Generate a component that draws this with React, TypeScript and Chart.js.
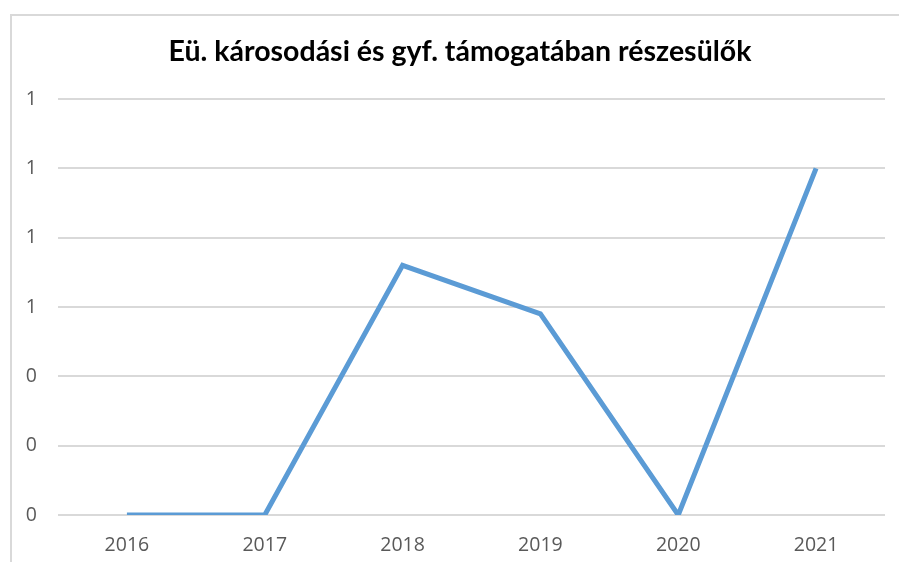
import React, { useEffect, useRef } from "react";
import { Chart, registerables } from "chart.js";

Chart.register(...registerables);

const TITLE = "Eü. károsodási és gyf. támogatában részesülők";
const YEARS = ["2016", "2017", "2018", "2019", "2020", "2021"];
const VALUES = [0, 0, 0.72, 0.58, 0, 1.0];
const Y_MIN = 0;
const Y_MAX = 1.2;
const Y_STEP = 0.2;

const titlePlugin = {
  id: "customTitle",
  afterDraw(chart: any) {
    const ctx = chart.ctx;
    ctx.save();
    ctx.font = "bold 28.5px Lato";
    ctx.fillStyle = "#000000";
    ctx.textAlign = "center";
    ctx.textBaseline = "middle";
    ctx.fillText(TITLE, 460, 52);
    ctx.restore();
  },
};

export default function App() {
  const ref = useRef<HTMLCanvasElement | null>(null);

  useEffect(() => {
    if (!ref.current) return;
    const chart = new Chart(ref.current, {
      type: "line",
      data: {
        labels: YEARS,
        datasets: [
          {
            data: VALUES,
            borderColor: "#5B9BD5",
            borderWidth: 5,
            pointRadius: 0,
            tension: 0,
            fill: false,
          },
        ],
      },
      plugins: [titlePlugin],
      options: {
        responsive: false,
        animation: false,
        layout: { padding: { left: 0, right: 14, top: 99, bottom: 0 } },
        plugins: {
          legend: { display: false },
          tooltip: { enabled: false },
          title: { display: false },
        },
        scales: {
          x: {
            offset: true,
            grid: { display: false },
            border: { display: false },
            ticks: {
              color: "#595959",
              font: { family: "Open Sans", size: 19.5 },
              padding: 11,
              maxRotation: 0,
            },
            afterFit: (s: any) => {
              s.height = 47;
            },
          },
          y: {
            min: Y_MIN,
            max: Y_MAX,
            border: { display: false },
            grid: { color: "#d9d9d9", lineWidth: 2, drawTicks: false },
            ticks: {
              stepSize: Y_STEP,
              color: "#595959",
              font: { family: "Open Sans", size: 19.5 },
              padding: 21,
              callback: (v: any) => String(Math.round(Number(v))),
            },
            afterFit: (s: any) => {
              s.width = 58;
            },
          },
        },
      },
    });
    return () => chart.destroy();
  }, []);

  return (
    <div
      style={{
        position: "fixed",
        left: 0,
        top: 0,
        width: 899,
        height: 562,
        overflow: "hidden",
        background: "#ffffff",
      }}
    >
      <div
        style={{
          position: "absolute",
          left: 10,
          top: 14,
          width: 1000,
          height: 700,
          borderLeft: "2px solid #d9d9d9",
          borderTop: "2px solid #d9d9d9",
        }}
      />
      <canvas
        ref={ref}
        width={899}
        height={562}
        style={{ position: "absolute", left: 0, top: 0, width: 899, height: 562 }}
      />
    </div>
  );
}
